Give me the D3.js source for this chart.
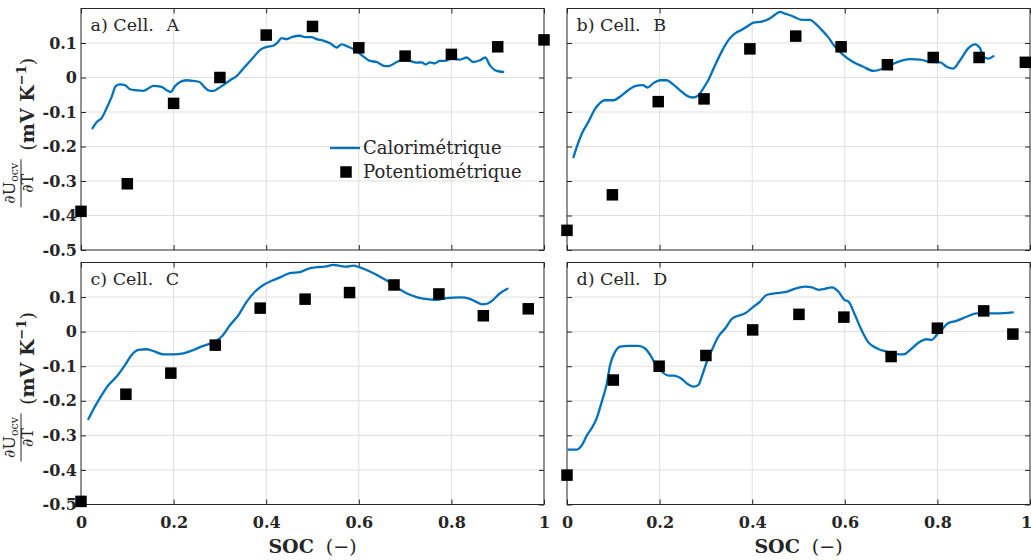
<!DOCTYPE html>
<html><head><meta charset="utf-8">
<script src="https://cdn.jsdelivr.net/npm/d3@7"></script>
<style>body{margin:0;background:#fff}svg{display:block}</style>
</head><body><svg id="c" width="1031" height="560"></svg>
<script>
// ---------- DATA ----------
const xTicks = [0, 0.2, 0.4, 0.6, 0.8, 1];
const xTickLabels = ["0", "0.2", "0.4", "0.6", "0.8", "1"];
const yTicks = [-0.5, -0.4, -0.3, -0.2, -0.1, 0, 0.1];
const yTickLabels = ["-0.5", "-0.4", "-0.3", "-0.2", "-0.1", "0", "0.1"];
const titles = ["a) Cell. A", "b) Cell. B", "c) Cell. C", "d) Cell. D"];
const legendLabels = ["Calorimétrique", "Potentiométrique"];

// Cell A
const calA_x = [0.025,0.034,0.045,0.055,0.066,0.075,0.084,0.095,0.106,0.12,0.134,0.145,0.156,0.174,0.185,0.194,0.203,0.214,0.228,0.243,0.256,0.266,0.275,0.286,0.296,0.307,0.322,0.336,0.354,0.372,0.387,0.401,0.415,0.425,0.433,0.444,0.455,0.473,0.484,0.498,0.509,0.523,0.538,0.552,0.563,0.577,0.592,0.606,0.624,0.638,0.657,0.667,0.682,0.696,0.71,0.725,0.736,0.744,0.754,0.764,0.775,0.786,0.8,0.819,0.833,0.847,0.862,0.873,0.883,0.898,0.912];
const calA_y = [-0.147,-0.129,-0.117,-0.09,-0.057,-0.025,-0.02,-0.022,-0.034,-0.037,-0.039,-0.032,-0.024,-0.027,-0.037,-0.042,-0.025,-0.013,-0.008,-0.01,-0.013,-0.027,-0.037,-0.039,-0.032,-0.022,-0.008,0.004,0.031,0.058,0.08,0.089,0.092,0.102,0.114,0.111,0.117,0.121,0.117,0.117,0.111,0.107,0.099,0.087,0.096,0.089,0.08,0.065,0.048,0.045,0.033,0.034,0.045,0.052,0.048,0.043,0.044,0.038,0.044,0.041,0.048,0.048,0.055,0.052,0.058,0.045,0.05,0.058,0.036,0.019,0.016];
const potA_x = [0,0.1,0.2,0.3,0.4,0.5,0.6,0.7,0.8,0.9,1];
const potA_y = [-0.388,-0.308,-0.075,0,0.123,0.148,0.086,0.062,0.067,0.089,0.109];

// Cell B
const calB_x = [0.014,0.021,0.032,0.046,0.061,0.071,0.082,0.1,0.118,0.132,0.147,0.163,0.174,0.186,0.201,0.215,0.229,0.244,0.258,0.273,0.284,0.294,0.305,0.32,0.334,0.349,0.363,0.377,0.388,0.403,0.421,0.439,0.449,0.46,0.471,0.485,0.507,0.525,0.536,0.55,0.564,0.579,0.597,0.618,0.64,0.662,0.683,0.712,0.741,0.763,0.784,0.806,0.82,0.834,0.849,0.867,0.881,0.892,0.899,0.91,0.921];
const calB_y = [-0.231,-0.202,-0.163,-0.129,-0.09,-0.074,-0.066,-0.066,-0.052,-0.037,-0.025,-0.022,-0.029,-0.017,-0.008,-0.008,-0.02,-0.037,-0.052,-0.058,-0.052,-0.032,-0.008,0.036,0.075,0.109,0.128,0.138,0.147,0.159,0.162,0.172,0.182,0.19,0.185,0.179,0.167,0.167,0.157,0.138,0.117,0.089,0.065,0.045,0.031,0.019,0.026,0.044,0.053,0.052,0.045,0.044,0.031,0.026,0.05,0.085,0.096,0.085,0.06,0.055,0.062];
const potB_x = [0,0.098,0.197,0.296,0.395,0.494,0.592,0.692,0.791,0.89,0.99];
const potB_y = [-0.443,-0.34,-0.07,-0.062,0.083,0.12,0.089,0.037,0.058,0.058,0.044];

// Cell C
const calC_x = [0.016,0.03,0.045,0.059,0.077,0.095,0.109,0.124,0.142,0.16,0.178,0.199,0.221,0.243,0.264,0.286,0.304,0.322,0.34,0.358,0.376,0.394,0.412,0.43,0.451,0.473,0.495,0.516,0.527,0.545,0.559,0.574,0.588,0.602,0.624,0.646,0.664,0.682,0.703,0.725,0.747,0.768,0.79,0.819,0.84,0.855,0.866,0.876,0.89,0.905,0.921];
const calC_y = [-0.253,-0.217,-0.183,-0.155,-0.13,-0.097,-0.068,-0.053,-0.051,-0.058,-0.066,-0.066,-0.063,-0.053,-0.041,-0.031,-0.014,0.019,0.048,0.087,0.116,0.135,0.147,0.157,0.169,0.172,0.184,0.187,0.188,0.193,0.19,0.188,0.191,0.186,0.174,0.159,0.145,0.128,0.111,0.1,0.094,0.092,0.097,0.099,0.095,0.085,0.079,0.08,0.092,0.111,0.124];
const potC_x = [0,0.097,0.194,0.29,0.387,0.484,0.58,0.676,0.773,0.869,0.966];
const potC_y = [-0.491,-0.181,-0.12,-0.039,0.068,0.094,0.113,0.135,0.109,0.046,0.066];

// Cell D
const calD_x = [0.003,0.021,0.032,0.043,0.053,0.064,0.075,0.086,0.093,0.104,0.115,0.132,0.154,0.168,0.18,0.19,0.205,0.219,0.23,0.248,0.259,0.273,0.284,0.291,0.302,0.313,0.327,0.342,0.356,0.37,0.385,0.399,0.417,0.431,0.449,0.471,0.492,0.514,0.529,0.543,0.557,0.572,0.586,0.599,0.608,0.622,0.636,0.651,0.669,0.69,0.712,0.726,0.741,0.759,0.777,0.788,0.798,0.809,0.823,0.841,0.863,0.885,0.906,0.928,0.963];
const calD_y = [-0.341,-0.341,-0.329,-0.3,-0.28,-0.251,-0.203,-0.15,-0.097,-0.058,-0.043,-0.041,-0.041,-0.048,-0.068,-0.092,-0.116,-0.127,-0.127,-0.137,-0.15,-0.159,-0.154,-0.13,-0.087,-0.053,-0.014,0.01,0.037,0.046,0.053,0.068,0.087,0.106,0.111,0.114,0.124,0.13,0.128,0.121,0.124,0.128,0.116,0.092,0.087,0.048,0.005,-0.031,-0.048,-0.058,-0.065,-0.066,-0.053,-0.032,-0.022,-0.024,-0.01,0.005,0.024,0.031,0.043,0.053,0.053,0.053,0.056];
const potD_x = [0,0.1,0.199,0.3,0.401,0.501,0.598,0.7,0.8,0.9,0.963];
const potD_y = [-0.415,-0.14,-0.1,-0.069,0.005,0.05,0.042,-0.072,0.01,0.06,-0.007];

// ---------- LAYOUT ----------
const svg = d3.select("#c");
const FONT = "'DejaVu Serif', serif";
const AX = "#262626", GRID = "#dfdfdf", BLUE = "#0072BD";
const cols = [[81, 544], [567, 1030]];
const rows = [[8.5, 250], [262.5, 504.5]];
const panels = [
  {t: titles[0], cx: calA_x, cy: calA_y, px: potA_x, py: potA_y, c: 0, r: 0},
  {t: titles[1], cx: calB_x, cy: calB_y, px: potB_x, py: potB_y, c: 1, r: 0},
  {t: titles[2], cx: calC_x, cy: calC_y, px: potC_x, py: potC_y, c: 0, r: 1},
  {t: titles[3], cx: calD_x, cy: calD_y, px: potD_x, py: potD_y, c: 1, r: 1}
];

panels.forEach((p, i) => {
  const [L, R] = cols[p.c], [T, B] = rows[p.r];
  const x = d3.scaleLinear().domain([0, 1]).range([L, R]);
  const y = d3.scaleLinear().domain([-0.5, 0.2]).range([B, T]);
  const g = svg.append("g");

  // grid
  g.selectAll(".gx").data(xTicks.slice(1, -1)).join("line")
    .attr("x1", d => x(d)).attr("x2", d => x(d)).attr("y1", T).attr("y2", B)
    .attr("stroke", GRID).attr("stroke-width", 1);
  g.selectAll(".gy").data(yTicks.slice(1)).join("line")
    .attr("y1", d => y(d)).attr("y2", d => y(d)).attr("x1", L).attr("x2", R)
    .attr("stroke", GRID).attr("stroke-width", 1);

  // axes with inward ticks
  const tk = 5;
  const ax = (gen, tr) => {
    const a = g.append("g").attr("transform", tr).call(gen);
    a.select(".domain").remove();
    a.selectAll("line").attr("stroke", AX);
    a.selectAll("text").attr("font-family", FONT).attr("font-weight", "bold")
      .attr("font-size", 16).attr("fill", AX);
    return a;
  };
  const xb = ax(d3.axisBottom(x).tickValues(xTicks).tickSizeInner(-tk).tickSizeOuter(0)
      .tickPadding(12).tickFormat((d, j) => p.r === 1 ? xTickLabels[j] : ""), `translate(0,${B})`);
  if (p.c === 1) xb.selectAll("text").filter(d => d === 1).attr("dx", -4);
  ax(d3.axisTop(x).tickValues(xTicks).tickSizeInner(-tk).tickSizeOuter(0).tickFormat(""), `translate(0,${T})`);
  ax(d3.axisLeft(y).tickValues(yTicks).tickSizeInner(-tk).tickSizeOuter(0)
      .tickPadding(4).tickFormat((d, j) => p.c === 0 ? yTickLabels[j] : ""), `translate(${L},0)`);
  ax(d3.axisRight(y).tickValues(yTicks).tickSizeInner(-tk).tickSizeOuter(0).tickFormat(""), `translate(${R},0)`);

  // box
  g.append("rect").attr("x", L).attr("y", T).attr("width", R - L).attr("height", B - T)
    .attr("fill", "none").attr("stroke", AX).attr("stroke-width", 1);

  // curve
  const pts = p.cx.map((v, j) => [v, p.cy[j]]);
  g.append("path").datum(pts)
    .attr("d", d3.line().x(d => x(d[0])).y(d => y(d[1])).curve(d3.curveMonotoneX))
    .attr("fill", "none").attr("stroke", BLUE).attr("stroke-width", 2.3)
    .attr("stroke-linejoin", "round").attr("stroke-linecap", "round");

  // squares
  const s = 11.5;
  g.selectAll(".sq").data(p.px.map((v, j) => [v, p.py[j]])).join("rect")
    .attr("x", d => x(d[0]) - s / 2).attr("y", d => y(d[1]) - s / 2)
    .attr("width", s).attr("height", s).attr("fill", "#000");

  // title
  const k = p.t.lastIndexOf(" ");
  const tt = g.append("text").attr("x", L + 9.5).attr("y", T + 22)
    .attr("font-family", FONT).attr("font-size", 17.5).attr("fill", AX).attr("xml:space", "preserve");
  tt.append("tspan").text(p.t.slice(0, k));
  tt.append("tspan").attr("dx", 7).text(p.t.slice(k));

  // x label
  if (p.r === 1) {
    const xl = g.append("text").attr("x", (L + R) / 2).attr("y", 553).attr("text-anchor", "middle")
      .attr("font-family", FONT).attr("font-size", 19).attr("fill", AX).attr("xml:space", "preserve");
    xl.append("tspan").attr("font-weight", "bold").text("SOC");
    xl.append("tspan").text("  (−)");
  }

  // y label
  if (p.c === 0) {
    const cyc = (T + B) / 2 - 1;
    const yl = g.append("g").attr("transform", `translate(34,${cyc}) rotate(-90)`);
    const fx = -55;
    const num = yl.append("text").attr("x", fx).attr("y", -19).attr("text-anchor", "middle")
      .attr("font-family", FONT).attr("font-size", 16).attr("fill", AX);
    num.append("tspan").text("∂U");
    num.append("tspan").attr("font-size", 11).attr("dy", 3).text("ocv");
    yl.append("line").attr("x1", fx - 24).attr("x2", fx + 24).attr("y1", -13).attr("y2", -13)
      .attr("stroke", AX).attr("stroke-width", 1);
    yl.append("text").attr("x", fx).attr("y", -1).attr("text-anchor", "middle")
      .attr("font-family", FONT).attr("font-size", 16).attr("fill", AX).text("∂T");
    const u = yl.append("text").attr("x", 24).attr("y", 0).attr("text-anchor", "middle")
      .attr("font-family", FONT).attr("font-size", 19).attr("fill", AX);
    u.append("tspan").text("(");
    u.append("tspan").attr("font-weight", "bold").text("mV K");
    u.append("tspan").attr("font-weight", "bold").attr("font-size", 13).attr("dy", -8).text("−1");
    u.append("tspan").attr("dy", 8).text(")");
  }

  // legend
  if (i === 0) {
    const lx = 330, ly = 148;
    g.append("line").attr("x1", lx).attr("x2", lx + 30).attr("y1", ly).attr("y2", ly)
      .attr("stroke", BLUE).attr("stroke-width", 2.3);
    g.append("rect").attr("x", 346 - s / 2).attr("y", 172 - s / 2).attr("width", s).attr("height", s).attr("fill", "#000");
    legendLabels.forEach((lab, j) => {
      g.append("text").attr("x", 363).attr("y", 154 + j * 24)
        .attr("font-family", FONT).attr("font-size", 18).attr("fill", AX).text(lab);
    });
  }
});
</script></body></html>
